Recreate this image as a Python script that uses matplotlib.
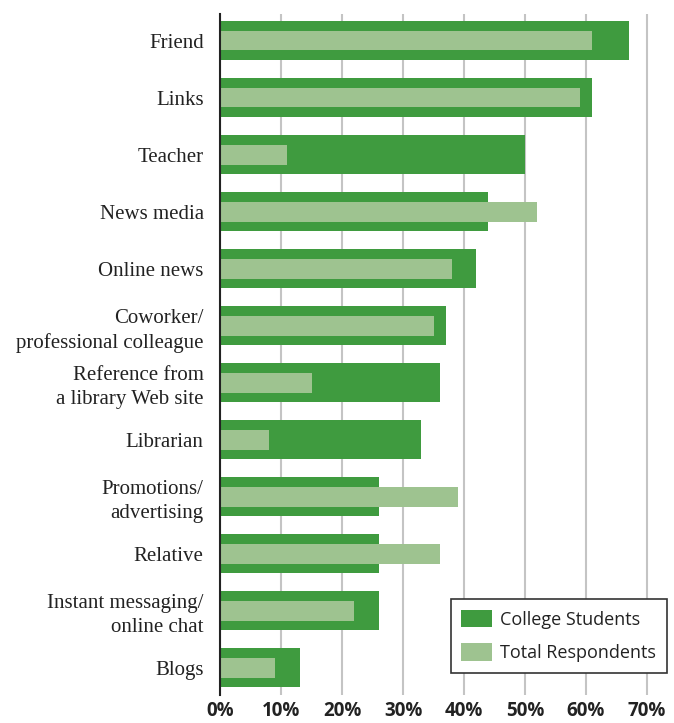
"""
Where people learn about new online resources:
college students against all respondents.
"""
import matplotlib.pyplot as plt
from matplotlib.ticker import PercentFormatter


CATEGORIES = [
    "Friend", "Links", "Teacher", "News media", "Online news",
    "Coworker/\nprofessional colleague", "Reference from\na library Web site",
    "Librarian", "Promotions/\nadvertising", "Relative",
    "Instant messaging/\nonline chat", "Blogs"]
COLLEGE = [0.67, 0.61, 0.50, 0.44, 0.42, 0.37, 0.36, 0.33, 0.26, 0.26, 0.26, 0.13]
TOTAL = [0.61, 0.59, 0.11, 0.52, 0.38, 0.35, 0.15, 0.08, 0.39, 0.36, 0.22, 0.09]
X_TICKS = [0, 0.1, 0.2, 0.3, 0.4, 0.5, 0.6, 0.7]

DARK = "#3f9b3f"
LIGHT = "#9ec390"


fig = plt.figure(figsize=(6.74, 7.23), dpi=100)
ax = fig.add_axes([220.3 / 674, 28 / 723, (667 - 220.3) / 674, (709 - 28) / 723])

y = range(len(CATEGORIES))
ax.barh(y, COLLEGE, height=0.685, color=DARK, label="College Students", zorder=2)
ax.barh(y, TOTAL, height=0.35, color=LIGHT, label="Total Respondents", zorder=3)

ax.set_xlim(0, 0.733)
ax.set_ylim(len(CATEGORIES) - 1 + 0.48, -0.465)
ax.set_xticks(X_TICKS)
ax.xaxis.set_major_formatter(PercentFormatter(1.0, decimals=0))
ax.set_yticks(list(y))
ax.set_yticklabels(CATEGORIES, family="Liberation Serif", fontsize=15,
                   color="#222222", linespacing=1.35)
for label in ax.get_xticklabels():
    label.set_family("Open Sans")
    label.set_fontweight("bold")
    label.set_fontsize(13.5)
    label.set_color("#222222")
ax.tick_params(axis="both", length=0)
ax.tick_params(axis="y", pad=12)
ax.tick_params(axis="x", pad=4)

ax.grid(axis="x", color="#c4c4c4", linewidth=1.5, zorder=0)
ax.set_axisbelow(True)
for side in ("top", "right", "bottom"):
    ax.spines[side].set_visible(False)
ax.spines["left"].set_color("#222222")
ax.spines["left"].set_linewidth(1.5)
ax.spines["left"].set_zorder(4)

legend = ax.legend(
    loc="lower right", bbox_to_anchor=(667 / 674, 1 - 673 / 723),
    bbox_transform=fig.transFigure, frameon=True, fancybox=False,
    prop={"family": "Open Sans", "size": 13}, handlelength=1.7,
    handleheight=1.1, borderpad=0.6, labelspacing=0.8, handletextpad=0.45,
    borderaxespad=0)
legend.get_frame().set_edgecolor("#333333")
legend.get_frame().set_linewidth(1.2)
legend.get_frame().set_alpha(1)
for text in legend.get_texts():
    text.set_color("#222222")

fig.savefig("out.png", dpi=100)
